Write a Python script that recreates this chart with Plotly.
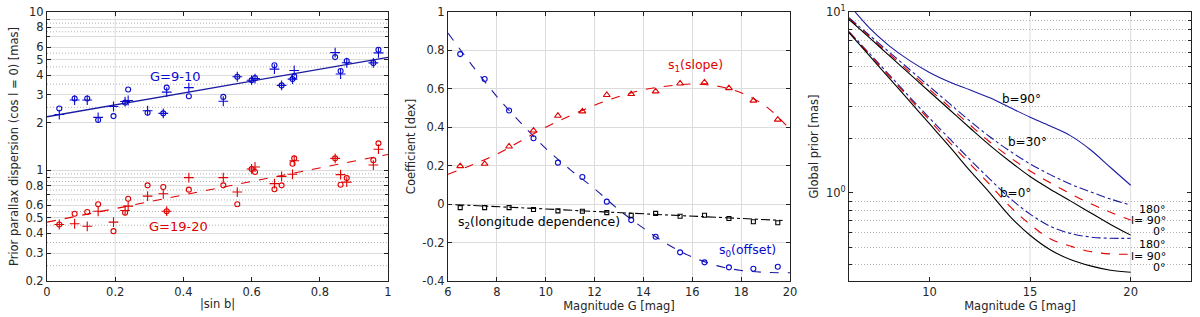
import numpy as np
import plotly.graph_objects as go

# ---------------- data: left panel ----------------
sinb = [0.036, 0.081, 0.118, 0.150, 0.195, 0.229, 0.238, 0.295, 0.341, 0.351, 0.416, 0.517,
        0.558, 0.600, 0.610, 0.667, 0.688, 0.720, 0.725, 0.845, 0.861, 0.879, 0.957, 0.972]
bright_circ = [2.46, 2.84, 2.84, 2.08, 2.20, 2.68, 3.24, 2.31, 2.29, 3.33, 2.94, 2.91,
               3.90, 3.71, 3.82, 4.61, 3.44, 3.77, 3.92, 5.19, 4.24, 4.90, 4.77, 5.77]
bright_plus = [2.25, 2.78, 2.78, 2.16, 2.53, 2.72, 2.76, 2.38, 2.29, 3.12, 3.33, 2.73,
               3.90, 3.71, 3.80, 4.36, 3.44, 3.77, 4.27, 5.54, 4.06, 4.78, 4.77, 5.52]
faint_circ = [0.455, 0.532, 0.545, 0.61, 0.413, 0.54, 0.662, 0.804, 0.784, 0.552, 0.755, 0.804,
              0.61, 1.02, 0.975, 0.759, 0.804, 1.10, 1.19, 1.19, 0.81, 0.893, 1.16, 1.48]
faint_plus = [0.455, 0.46, 0.443, 0.551, 0.471, 0.558, 0.594, 0.687, 0.711, 0.552, 0.90, 0.90,
              0.729, 1.02, 1.05, 0.824, 0.916, 0.944, 1.15, 1.19, 0.94, 0.843, 1.08, 1.36]
fit_sinb = [0.0, 1.0]
bright_fit = [2.18, 5.17]
faint_fit = [0.471, 1.26]

left_ytickvals = [0.2, 0.3, 0.4, 0.5, 0.6, 0.8, 1, 2, 3, 4, 5, 6, 8, 10]
left_yticktext = ["0.2", "0.3", "0.4", "0.5", "0.6", "0.8", "1", "2", "3", "4", "5", "6", "8", "10"]
left_yminor = [0.7, 0.9, 7, 9]
left_dotgrid = [0.25, 0.35, 0.45, 0.55, 0.65, 0.75, 0.85, 0.95, 2.5, 3.5, 4.5, 5.5, 7.5, 8.5]

# ---------------- data: middle panel ----------------
G_bin = [6.5, 7.5, 8.5, 9.5, 10.5, 11.5, 12.5, 13.5, 14.5, 15.5, 16.5, 17.5, 18.5, 19.5]
s0 = [0.781, 0.651, 0.487, 0.343, 0.216, 0.141, 0.013, -0.083, -0.17, -0.251, -0.303, -0.329, -0.336, -0.326]
s1 = [0.198, 0.21, 0.30, 0.383, 0.46, 0.483, 0.568, 0.573, 0.587, 0.628, 0.634, 0.604, 0.539, 0.44]
s2 = [-0.018, -0.018, -0.018, -0.028, -0.035, -0.037, -0.044, -0.058, -0.048, -0.063, -0.058, -0.075, -0.092, -0.097]
G_fit = [6, 7, 8, 9, 10, 11, 12, 13, 14, 15, 16, 17, 18, 19, 20]
s0_fit = [0.89, 0.72, 0.56, 0.42, 0.29, 0.18, 0.08, -0.03, -0.125, -0.21, -0.275, -0.32, -0.345, -0.355, -0.357]
s1_fit = [0.155, 0.205, 0.26, 0.33, 0.40, 0.46, 0.515, 0.56, 0.595, 0.615, 0.625, 0.615, 0.58, 0.51, 0.39]
G_fit2 = [6.3, 8, 10, 12, 14, 16, 18, 19.7]
s2_fit = [-0.003, -0.012, -0.025, -0.038, -0.05, -0.062, -0.075, -0.085]
mid_yticks = [-0.4, -0.2, 0, 0.2, 0.4, 0.6, 0.8, 1]
mid_yticktext = ["-0.4", "-0.2", "0", "0.2", "0.4", "0.6", "0.8", "1"]

# ---------------- data: right panel ----------------
G_curve = [6, 7, 8, 9, 10, 11, 12, 13, 14, 15, 16, 17, 18, 19, 20]
b90 = [11.0, 8.2, 6.5, 5.4, 4.63, 4.10, 3.71, 3.35, 2.96, 2.62, 2.34, 2.07, 1.73, 1.38, 1.10]
b30_l180 = [9.29, 7.46, 6.0, 4.82, 3.87, 3.11, 2.50, 2.04, 1.70, 1.445, 1.26, 1.117, 1.012, 0.923, 0.855]
b30_l90 = [9.20, 7.35, 5.86, 4.68, 3.73, 2.98, 2.38, 1.91, 1.57, 1.32, 1.135, 0.989, 0.871, 0.78, 0.706]
b30_l0 = [9.10, 7.23, 5.74, 4.56, 3.62, 2.88, 2.29, 1.83, 1.49, 1.23, 1.047, 0.902, 0.776, 0.668, 0.583]
b0_l180 = [7.80, 5.92, 4.49, 3.40, 2.59, 1.99, 1.53, 1.19, 0.933, 0.762, 0.653, 0.596, 0.569, 0.56, 0.56]
b0_l90 = [7.74, 5.85, 4.42, 3.33, 2.52, 1.90, 1.45, 1.11, 0.84, 0.668, 0.556, 0.507, 0.473, 0.459, 0.457]
b0_l0 = [7.69, 5.75, 4.31, 3.22, 2.41, 1.80, 1.33, 1.0, 0.741, 0.582, 0.484, 0.427, 0.394, 0.373, 0.363]
right_ytickvals = [1, 10]
right_yticktext = ["10<sup>0</sup>", "10<sup>1</sup>"]
right_yminor = [0.4, 0.5, 0.6, 0.7, 0.8, 0.9, 2, 3, 4, 5, 6, 7, 8, 9]

BLUE = "#0a0ad0"
BLUE_L = "#1a1aa0"
RED = "#e00000"
BLACK = "#000000"
FONT = "DejaVu Sans"
TXT = "#262626"
GRID = "#dcdcdc"
DOT = "#b4b4b4"
DOTDASH = "1px,2px"

fig = go.Figure()


def mk(x, y, sym, color, size, xa, ya):
    return go.Scatter(x=x, y=y, mode="markers", xaxis=xa, yaxis=ya, showlegend=False,
                      marker=dict(symbol=sym, size=size, color=color, line=dict(width=1.1, color=color)))


# left panel
fig.add_trace(go.Scatter(x=fit_sinb, y=bright_fit, mode="lines", line=dict(color=BLUE_L, width=1.3),
                         xaxis="x", yaxis="y", showlegend=False))
fig.add_trace(go.Scatter(x=fit_sinb, y=faint_fit, mode="lines", line=dict(color=RED, width=1.1, dash="dash"),
                         xaxis="x", yaxis="y", showlegend=False))
fig.add_trace(mk(sinb, bright_circ, "circle-open", BLUE, 5, "x", "y"))
fig.add_trace(mk(sinb, bright_plus, "cross-thin-open", BLUE, 7, "x", "y"))
fig.add_trace(mk(sinb, faint_circ, "circle-open", RED, 5, "x", "y"))
fig.add_trace(mk(sinb, faint_plus, "cross-thin-open", RED, 7, "x", "y"))

# middle panel
fig.add_trace(go.Scatter(x=G_fit, y=s0_fit, mode="lines", line=dict(color=BLUE_L, width=1.1, dash="dash", shape="spline"),
                         xaxis="x2", yaxis="y2", showlegend=False))
fig.add_trace(go.Scatter(x=G_fit, y=s1_fit, mode="lines", line=dict(color=RED, width=1.1, dash="dash", shape="spline"),
                         xaxis="x2", yaxis="y2", showlegend=False))
fig.add_trace(go.Scatter(x=G_fit2, y=s2_fit, mode="lines", line=dict(color=BLACK, width=1.1, dash="dashdot"),
                         xaxis="x2", yaxis="y2", showlegend=False))
fig.add_trace(mk(G_bin, s0, "circle-open", BLUE, 5, "x2", "y2"))
fig.add_trace(mk(G_bin, s1, "triangle-up-open", RED, 6, "x2", "y2"))
fig.add_trace(mk(G_bin, s2, "square-open", BLACK, 4, "x2", "y2"))

# right panel
curves = [
    (b90, BLUE_L, "solid"),
    (b30_l180, BLUE_L, "dashdot"), (b30_l90, RED, "dash"), (b30_l0, BLACK, "solid"),
    (b0_l180, BLUE_L, "dashdot"), (b0_l90, RED, "dash"), (b0_l0, BLACK, "solid"),
]
for ys, c, d in curves:
    fig.add_trace(go.Scatter(x=G_curve, y=ys, mode="lines", line=dict(color=c, width=1.1, dash=d, shape="spline"),
                             xaxis="x3", yaxis="y3", showlegend=False))

ydom = [36 / 317, 305 / 317]
tickfont = dict(family=FONT, size=11.5, color=TXT)
titlefont = dict(family=FONT, size=11.5, color=TXT)
common = dict(ticks="inside", ticklen=4, tickcolor="#222", showline=True, linecolor="#222",
              linewidth=1, mirror="ticks", zeroline=False, tickfont=tickfont)

fig.update_layout(
    width=1200, height=317, margin=dict(l=0, r=0, t=0, b=0, autoexpand=False),
    paper_bgcolor="white", plot_bgcolor="white",
    xaxis=dict(domain=[47 / 1200, 388 / 1200], range=[0, 1], anchor="y",
               tickvals=[0, 0.2, 0.4, 0.6, 0.8, 1], ticktext=["0", "0.2", "0.4", "0.6", "0.8", "1"],
               showgrid=False, title=dict(text="|sin b|", font=titlefont, standoff=2), **common),
    yaxis=dict(domain=ydom, type="log", range=[np.log10(0.2), 1], anchor="x",
               tickvals=left_ytickvals, ticktext=left_yticktext, showgrid=True, gridcolor=GRID,
               minor=dict(tickmode="array", tickvals=left_yminor, ticks="inside", ticklen=3,
                          tickcolor="#222", showgrid=True, gridcolor=GRID),
               title=dict(text="Prior parallax dispersion (cos l = 0) [mas]", font=titlefont, standoff=4), **common),
    xaxis2=dict(domain=[448 / 1200, 790 / 1200], range=[6, 20], anchor="y2", dtick=2,
                showgrid=True, gridcolor=GRID,
                title=dict(text="Magnitude G [mag]", font=titlefont, standoff=2), **common),
    yaxis2=dict(domain=ydom, range=[-0.4, 1], anchor="x2", tickvals=mid_yticks, ticktext=mid_yticktext,
                showgrid=True, gridcolor=GRID,
                title=dict(text="Coefficient [dex]", font=titlefont, standoff=4), **common),
    xaxis3=dict(domain=[849 / 1200, 1191 / 1200], range=[6, 23], anchor="y3",
                tickvals=[10, 15, 20], showgrid=False,
                title=dict(text="Magnitude G [mag]", font=titlefont, standoff=2), **common),
    yaxis3=dict(domain=ydom, type="log", range=[np.log10(0.325), 1], anchor="x3",
                tickvals=right_ytickvals, ticktext=right_yticktext, showgrid=False,
                minor=dict(tickmode="array", tickvals=right_yminor, ticks="inside", ticklen=3,
                           tickcolor="#222", showgrid=True, gridcolor=DOT, griddash=DOTDASH),
                title=dict(text="Global prior [mas]", font=titlefont, standoff=4), **common),
)

shapes = []
for v in left_dotgrid:
    shapes.append(dict(type="line", xref="x domain", yref="y", x0=0, x1=1, y0=v, y1=v,
                       line=dict(color=DOT, width=1, dash=DOTDASH), layer="below"))
shapes.append(dict(type="line", xref="x", yref="paper", x0=0.2, x1=0.2, y0=ydom[0], y1=ydom[1],
                   line=dict(color=GRID, width=1), layer="below"))
for v in [15, 20]:
    shapes.append(dict(type="line", xref="x3", yref="paper", x0=v, x1=v, y0=ydom[0], y1=ydom[1],
                       line=dict(color=GRID, width=1), layer="below"))
fig.update_layout(shapes=shapes)


def ann(text, x, y, xr, yr, color, size=12.5, xanchor="center"):
    fig.add_annotation(text=text, x=x, y=y, xref=xr, yref=yr, showarrow=False, xanchor=xanchor,
                       font=dict(family=FONT, size=size, color=color))


ann("G=9-10", 0.375, np.log10(3.94), "x", "y", BLUE, 13)
ann("G=19-20", 0.387, np.log10(0.443), "x", "y", RED, 13)
ann("s<sub>1</sub>(slope)", 16.14, 0.72, "x2", "y2", RED)
ann("s<sub>2</sub>(longitude dependence)", 9.73, -0.095, "x2", "y2", BLACK)
ann("s<sub>0</sub>(offset)", 18.25, -0.24, "x2", "y2", BLUE)
ann("b=90°", 14.57, 0.521, "x3", "y3", BLACK, 12)
ann("b=30°", 14.87, 0.282, "x3", "y3", BLACK, 12)
ann("b=0°", 14.29, -0.003, "x3", "y3", BLACK, 12)
for t, y in [("180°", 0.81), ("l= 90°", 0.706), ("0°", 0.614), ("180°", 0.519), ("l= 90°", 0.443), ("0°", 0.387)]:
    fig.add_annotation(text=t, x=21.85, y=np.log10(y), xref="x3", yref="y3", showarrow=False,
                       xanchor="right", yanchor="middle", height=11, valign="middle",
                       font=dict(family=FONT, size=11, color=BLACK))

fig.write_html("out.html", config={"displayModeBar": False},
               post_script="document.body.style.margin='0';document.body.style.overflow='hidden';")
